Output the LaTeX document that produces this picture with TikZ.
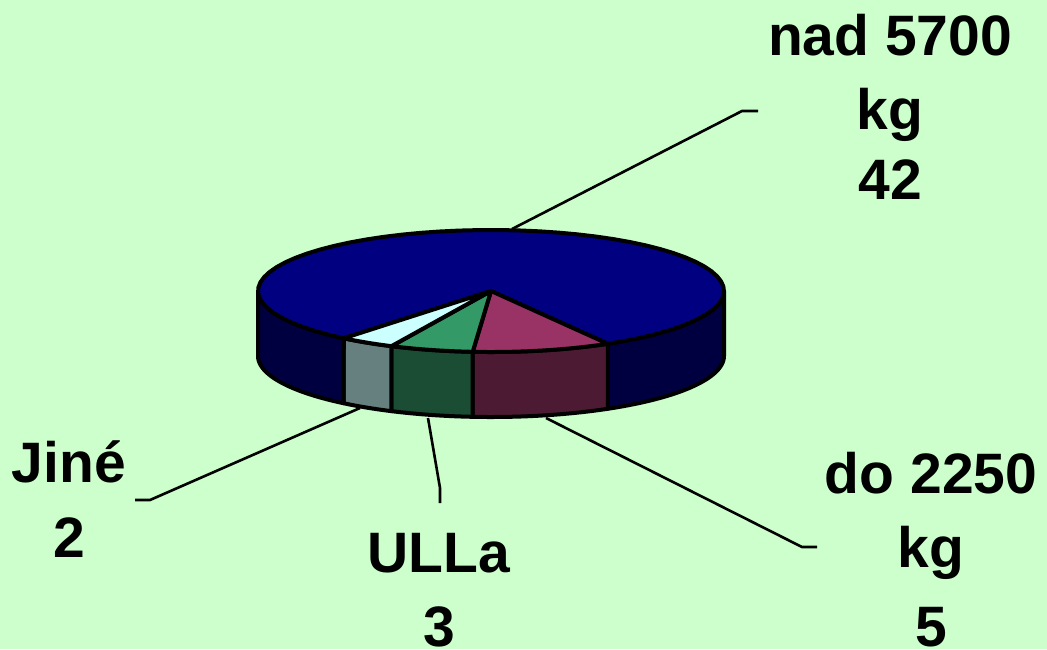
\documentclass[tikz,border=0pt]{standalone}
\usepackage{fontspec}
\setmainfont{Liberation Sans}
\definecolor{bg}{HTML}{CCFFCC}
\definecolor{navytop}{HTML}{000080}
\definecolor{navyside}{HTML}{000040}
\definecolor{dotop}{HTML}{993366}
\definecolor{doside}{HTML}{4D1A33}
\definecolor{ullatop}{HTML}{339966}
\definecolor{ullaside}{HTML}{1A4D33}
\definecolor{jinetop}{HTML}{CCFFFF}
\definecolor{jineside}{HTML}{668080}
\newcommand{\pcx}{491}
\newcommand{\pcy}{291}
\newcommand{\prx}{233}
\newcommand{\pry}{61}
\newcommand{\pdp}{65}
\tikzset{
  pieedge/.style={draw=black, line width=4pt, line join=round},
  leader/.style={draw=black, line width=2.6pt},
  lbl/.style={font=\bfseries\fontsize{57}{57}\selectfont, anchor=base, inner sep=0pt}
}
% side face between angles #1 and #2
\newcommand{\sideface}[3]{%
  \filldraw[pieedge, fill=#3]
    plot[domain=#1:#2, samples=30] ({\pcx+\prx*cos(\x)},{\pcy+\pry*sin(\x)})
    -- plot[domain=#2:#1, samples=30] ({\pcx+\prx*cos(\x)},{\pcy+\pdp+\pry*sin(\x)})
    -- cycle;}
\newcommand{\topface}[3]{%
  \filldraw[pieedge, fill=#3]
    (\pcx,\pcy) -- plot[domain=#1:#2, samples=60] ({\pcx+\prx*cos(\x)},{\pcy+\pry*sin(\x)})
    -- cycle;}
\begin{document}
\begin{tikzpicture}[x=1pt,y=-1pt]
\fill[bg] (0,0) rectangle (1047,649);
\useasboundingbox (0,0) rectangle (1047,649);
% sides
\sideface{0}{59.9}{navyside}
\sideface{59.9}{94.5}{doside}
\sideface{94.5}{115.3}{ullaside}
\sideface{115.3}{129.2}{jineside}
\sideface{129.2}{180}{navyside}
% tops
\topface{129.2}{419.9}{navytop}
\topface{59.9}{94.5}{dotop}
\topface{94.5}{115.3}{ullatop}
\topface{115.3}{129.2}{jinetop}
% leader anchor points
\coordinate (pNad) at (512,229);
\coordinate (kNad) at (742,111);
\coordinate (eNad) at (758,111);
\coordinate (pDo) at (546,418);
\coordinate (kDo) at (802,547);
\coordinate (eDo) at (817,547);
\coordinate (pUl) at (428,418);
\coordinate (kUl) at (440,488);
\coordinate (eUl) at (440,503);
\coordinate (pJi) at (360,408);
\coordinate (kJi) at (150,500);
\coordinate (eJi) at (135,500);
\draw[leader] (pNad) -- (kNad) -- (eNad);
\draw[leader] (pDo) -- (kDo) -- (eDo);
\draw[leader] (pUl) -- (kUl) -- (eUl);
\draw[leader] (pJi) -- (kJi) -- (eJi);
% labels
\node[lbl] (nad1) at (890,55) {nad 5700};
\node[lbl] (nad2) at (890,129) {kg};
\node[lbl] (nad3) at (890,199) {42};
\node[lbl] (do1) at (931,493) {do 2250};
\node[lbl] (do2) at (931,567) {kg};
\node[lbl] (do3) at (931,646) {5};
\node[lbl] (ji1) at (69,482) {Jiné};
\node[lbl] (ji2) at (69,557) {2};
\node[lbl] (ul1) at (439,572) {ULLa};
\node[lbl] (ul2) at (439,646) {3};
\end{tikzpicture}
\end{document}
